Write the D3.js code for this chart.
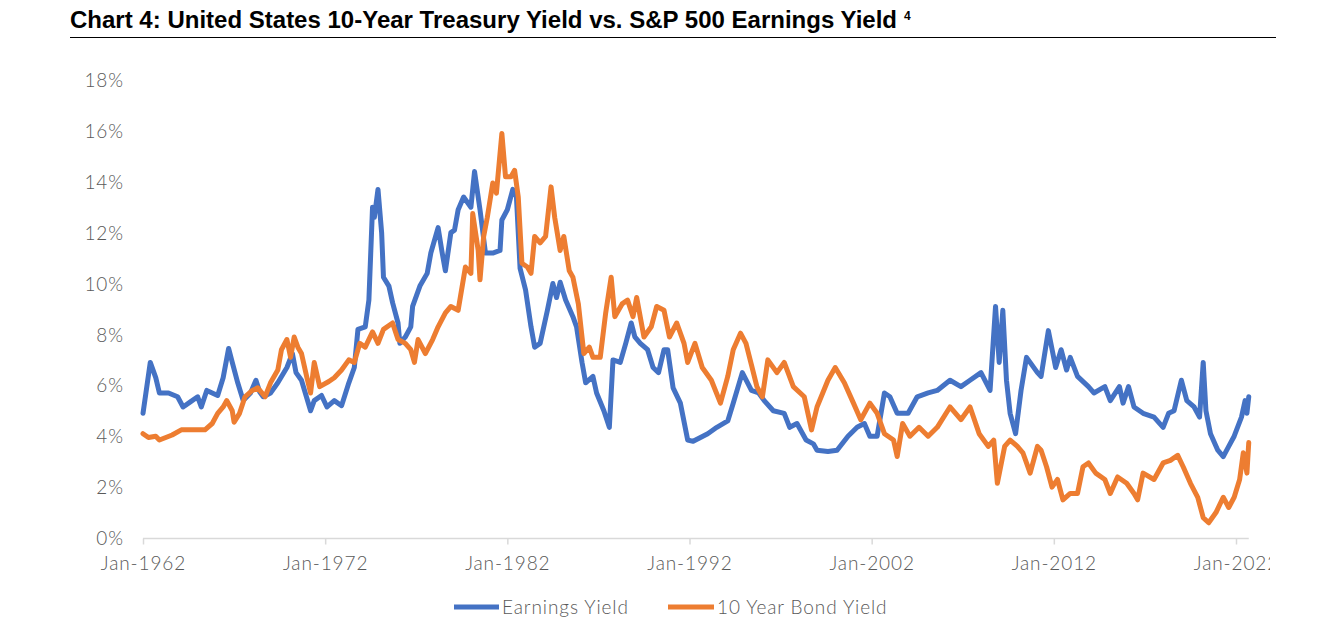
<!DOCTYPE html>
<html>
<head>
<meta charset="utf-8">
<script src="https://cdn.jsdelivr.net/npm/d3@7"></script>
<style>
  html, body { margin: 0; padding: 0; background: #ffffff; }
  svg { display: block; }
</style>
</head>
<body>
<svg id="chart" width="1342" height="628"></svg>
<script>
// ---------------- DATA ----------------
const titleText = "Chart 4: United States 10-Year Treasury Yield vs. S&P 500 Earnings Yield";
const titleNote = "4";
const seriesNames = ["Earnings Yield", "10 Year Bond Yield"];
const yTicks = [0, 2, 4, 6, 8, 10, 12, 14, 16, 18];
const xTickYears = [1962, 1972, 1982, 1992, 2002, 2012, 2022];
const xTickLabels = ["Jan-1962", "Jan-1972", "Jan-1982", "Jan-1992", "Jan-2002", "Jan-2012", "Jan-2022"];

// Earnings yield (%), date as decimal year
const eyYears = [1962.0,1962.4,1962.7,1962.9,1963.4,1963.9,1964.2,1964.6,1965.0,1965.2,1965.5,1966.1,1966.4,1966.7,1966.9,1967.2,1967.5,1967.9,1968.2,1968.4,1968.6,1969.0,1969.4,1969.9,1970.2,1970.4,1970.7,1971.2,1971.4,1971.8,1972.1,1972.5,1972.9,1973.3,1973.6,1973.8,1974.2,1974.4,1974.6,1974.7,1974.9,1975.1,1975.2,1975.5,1975.7,1976.0,1976.1,1976.4,1976.7,1976.8,1977.2,1977.6,1977.8,1978.2,1978.4,1978.6,1978.9,1979.1,1979.3,1979.6,1980.0,1980.2,1980.5,1980.8,1981.2,1981.6,1981.7,1982.0,1982.3,1982.5,1982.7,1983.0,1983.3,1983.5,1983.8,1984.2,1984.5,1984.7,1984.9,1985.2,1985.6,1985.8,1986.1,1986.3,1986.7,1986.9,1987.3,1987.6,1987.8,1988.2,1988.5,1988.8,1989.0,1989.3,1989.7,1990.0,1990.3,1990.6,1990.8,1991.1,1991.5,1991.9,1992.2,1993.0,1993.5,1994.1,1994.4,1994.9,1995.4,1995.8,1996.1,1996.6,1997.2,1997.5,1997.9,1998.4,1998.8,1999.0,1999.6,2000.1,2000.7,2001.2,2001.6,2001.9,2002.3,2002.7,2003.0,2003.4,2004.0,2004.5,2005.1,2005.6,2006.3,2006.9,2007.4,2008.0,2008.5,2008.8,2009.0,2009.2,2009.4,2009.6,2009.9,2010.2,2010.5,2011.1,2011.3,2011.7,2012.1,2012.4,2012.7,2012.9,2013.3,2013.9,2014.2,2014.8,2015.1,2015.6,2015.8,2016.1,2016.4,2016.9,2017.5,2018.0,2018.3,2018.6,2019.0,2019.3,2019.7,2020.0,2020.2,2020.35,2020.6,2021.0,2021.3,2021.6,2021.9,2022.3,2022.5,2022.6,2022.7];
const eyValues = [4.9,6.9,6.3,5.7,5.7,5.55,5.15,5.35,5.55,5.15,5.8,5.6,6.3,7.45,6.9,6.1,5.4,5.7,6.2,5.75,5.55,5.7,6.1,6.7,7.25,6.5,6.2,5.0,5.4,5.6,5.15,5.4,5.2,6.1,6.7,8.2,8.3,9.35,13.0,12.6,13.7,12.0,10.25,9.9,9.25,8.45,7.65,7.9,8.3,9.1,9.9,10.4,11.2,12.2,11.3,10.5,12.0,12.1,12.9,13.4,13.0,14.4,12.9,11.2,11.2,11.3,12.5,12.9,13.7,13.4,10.6,9.75,8.3,7.5,7.65,8.95,10.0,9.45,10.05,9.35,8.7,8.3,6.9,6.1,6.35,5.7,5.0,4.35,7.0,6.9,7.65,8.45,7.9,7.65,7.4,6.7,6.5,7.4,7.4,5.9,5.3,3.85,3.8,4.1,4.35,4.6,5.3,6.5,5.8,5.7,5.4,5.0,4.9,4.35,4.5,3.85,3.7,3.45,3.4,3.45,4.0,4.35,4.5,4.0,4.0,5.7,5.55,4.9,4.9,5.55,5.7,5.8,6.2,5.95,6.2,6.5,5.8,9.1,6.9,8.95,6.2,4.9,4.1,5.8,7.1,6.5,6.35,8.15,6.7,7.4,6.6,7.1,6.35,5.95,5.7,5.95,5.4,5.95,5.3,5.95,5.15,4.9,4.75,4.35,4.9,5.0,6.2,5.4,5.15,4.75,6.9,5.0,4.1,3.45,3.2,3.6,4.0,4.75,5.4,4.9,5.55];

// 10-year Treasury yield (%), date as decimal year
const bondYears = [1962.0,1962.3,1962.7,1962.9,1963.6,1964.1,1964.7,1965.4,1965.8,1966.1,1966.4,1966.6,1966.9,1967.0,1967.3,1967.6,1968.0,1968.3,1968.7,1969.0,1969.4,1969.6,1969.9,1970.1,1970.3,1970.5,1970.7,1971.0,1971.2,1971.4,1971.7,1972.2,1972.5,1972.9,1973.3,1973.6,1973.9,1974.2,1974.6,1974.9,1975.2,1975.7,1976.0,1976.4,1976.7,1976.9,1977.1,1977.5,1977.9,1978.2,1978.6,1978.9,1979.3,1979.7,1980.0,1980.1,1980.4,1980.5,1980.7,1980.9,1981.2,1981.4,1981.7,1981.9,1982.2,1982.4,1982.6,1982.8,1983.1,1983.3,1983.5,1983.8,1984.1,1984.4,1984.6,1984.9,1985.1,1985.4,1985.6,1985.9,1986.2,1986.5,1986.7,1987.1,1987.4,1987.7,1987.9,1988.3,1988.6,1988.9,1989.1,1989.5,1989.9,1990.2,1990.6,1990.9,1991.3,1991.7,1991.9,1992.3,1992.7,1993.2,1993.7,1994.1,1994.4,1994.8,1995.1,1995.4,1995.7,1996.0,1996.3,1996.8,1997.2,1997.7,1998.3,1998.7,1999.0,1999.6,2000.0,2000.5,2001.0,2001.4,2001.9,2002.3,2002.7,2003.2,2003.4,2003.7,2004.1,2004.6,2005.1,2005.6,2006.3,2006.9,2007.4,2007.9,2008.4,2008.7,2008.9,2009.3,2009.6,2010.0,2010.3,2010.7,2011.1,2011.3,2011.6,2011.9,2012.2,2012.5,2012.9,2013.3,2013.6,2013.9,2014.3,2014.8,2015.1,2015.5,2016.0,2016.4,2016.6,2016.9,2017.5,2018.0,2018.4,2018.8,2019.1,2019.5,2019.9,2020.2,2020.5,2020.9,2021.3,2021.6,2021.9,2022.2,2022.4,2022.6,2022.7];
const bondValues = [4.1,3.95,4.0,3.85,4.05,4.25,4.25,4.25,4.5,4.9,5.15,5.4,5.0,4.55,4.9,5.55,5.8,5.9,5.55,6.1,6.6,7.4,7.8,7.1,7.9,7.5,7.25,6.3,5.7,6.9,5.95,6.15,6.3,6.6,7.0,6.9,7.65,7.5,8.1,7.65,8.2,8.45,7.8,7.65,7.4,6.9,7.8,7.25,7.8,8.3,8.85,9.1,8.95,10.65,10.4,12.75,11.3,10.15,11.85,12.6,13.95,13.55,15.9,14.2,14.2,14.45,13.4,10.8,10.65,10.4,11.85,11.6,11.85,13.8,12.6,11.3,11.85,10.5,10.25,9.2,7.25,7.5,7.1,7.1,8.85,10.25,8.7,9.2,9.35,8.7,9.45,7.9,8.3,9.1,8.95,7.9,8.45,7.65,6.9,7.65,6.7,6.2,5.3,6.35,7.4,8.05,7.65,6.8,5.95,5.55,7.0,6.5,6.9,5.95,5.55,4.25,5.15,6.2,6.7,6.1,5.3,4.65,5.3,4.9,4.1,3.85,3.2,4.5,4.0,4.35,4.0,4.35,5.15,4.65,5.15,4.1,3.6,3.85,2.15,3.6,3.85,3.6,3.35,2.55,3.6,3.45,2.8,2.0,2.3,1.5,1.75,1.75,2.8,2.95,2.55,2.3,1.75,2.4,2.15,1.75,1.5,2.55,2.3,2.95,3.05,3.25,2.8,2.15,1.6,0.8,0.6,1.0,1.6,1.2,1.6,2.3,3.35,2.55,3.75];

// ---------------- CHART ----------------
const svg = d3.select("#chart");
const colors = ["#4472C4", "#ED7D31"];
const labelFont = "Lato, 'Open Sans', sans-serif";
const labelColor = "#595959";
const labelSize = 19;
const labelSpacing = "0.9px";

const x = d3.scaleLinear().domain([1962, 2022]).range([143, 1236]);
const y = d3.scaleLinear().domain([0, 18]).range([538, 80]);

const defs = svg.append("defs");
defs.append("clipPath").attr("id", "rightclip")
  .append("rect").attr("x", 0).attr("y", 0).attr("width", 1270).attr("height", 628);

// Title
svg.append("text")
  .attr("x", 70).attr("y", 28)
  .attr("font-family", "'Liberation Sans', Arial, sans-serif")
  .attr("font-weight", "bold")
  .attr("font-size", 23)
  .attr("fill", "#000")
  .attr("textLength", 827)
  .attr("lengthAdjust", "spacingAndGlyphs")
  .text(titleText);
svg.append("text")
  .attr("x", 904).attr("y", 20)
  .attr("font-family", "'Liberation Sans', Arial, sans-serif")
  .attr("font-weight", "bold")
  .attr("font-size", 12)
  .attr("fill", "#000")
  .text(titleNote);
svg.append("line")
  .attr("x1", 70).attr("x2", 1276)
  .attr("y1", 37.5).attr("y2", 37.5)
  .attr("stroke", "#000").attr("stroke-width", 1.2);

// Y axis (labels only)
const yAxis = d3.axisLeft(y).tickValues(yTicks).tickSize(0).tickPadding(0)
  .tickFormat(d => d + "%");
const yg = svg.append("g").attr("transform", "translate(124,0)").call(yAxis);
yg.select(".domain").remove();
yg.selectAll("text")
  .attr("font-family", labelFont).attr("font-size", labelSize)
  .attr("font-weight", 300)
  .attr("letter-spacing", labelSpacing)
  .attr("fill", labelColor).attr("dy", "0.35em");

// X axis
const xEnd = d3.max(eyYears);
svg.append("line")
  .attr("x1", x(1962)).attr("x2", x(xEnd))
  .attr("y1", 538.5).attr("y2", 538.5)
  .attr("stroke", "#d9d9d9").attr("stroke-width", 1.5);
const xAxis = d3.axisBottom(x).tickValues(xTickYears).tickSize(6).tickPadding(12)
  .tickFormat((d, i) => xTickLabels[i]);
const xWrap = svg.append("g").attr("clip-path", "url(#rightclip)");
const xg = xWrap.append("g").attr("transform", "translate(0,538.5)").call(xAxis);
xg.select(".domain").remove();
xg.selectAll(".tick line").attr("stroke", "#d9d9d9").attr("stroke-width", 1.5);
xg.selectAll("text")
  .attr("font-family", labelFont).attr("font-size", labelSize)
  .attr("font-weight", 300)
  .attr("letter-spacing", labelSpacing)
  .attr("fill", labelColor);

// Lines
const line = d3.line().x(d => x(d[0])).y(d => y(d[1])).curve(d3.curveLinear);
const eyData = eyYears.map((t, i) => [t, eyValues[i]]);
const bondData = bondYears.map((t, i) => [t, bondValues[i]]);

svg.append("path").datum(eyData)
  .attr("d", line).attr("fill", "none")
  .attr("stroke", colors[0]).attr("stroke-width", 5)
  .attr("stroke-linejoin", "round").attr("stroke-linecap", "round");
svg.append("path").datum(bondData)
  .attr("d", line).attr("fill", "none")
  .attr("stroke", colors[1]).attr("stroke-width", 5)
  .attr("stroke-linejoin", "round").attr("stroke-linecap", "round");

// Legend
const legendItems = [
  { name: seriesNames[0], color: colors[0], x1: 454, x2: 499, tx: 502 },
  { name: seriesNames[1], color: colors[1], x1: 668, x2: 714, tx: 717 }
];
const lg = svg.append("g");
legendItems.forEach(it => {
  lg.append("line").attr("x1", it.x1).attr("x2", it.x2)
    .attr("y1", 607).attr("y2", 607)
    .attr("stroke", it.color).attr("stroke-width", 5);
  lg.append("text").attr("x", it.tx).attr("y", 614)
    .attr("font-family", labelFont).attr("font-size", labelSize)
    .attr("font-weight", 300)
    .attr("letter-spacing", labelSpacing)
    .attr("fill", labelColor).text(it.name);
});
</script>
</body>
</html>
